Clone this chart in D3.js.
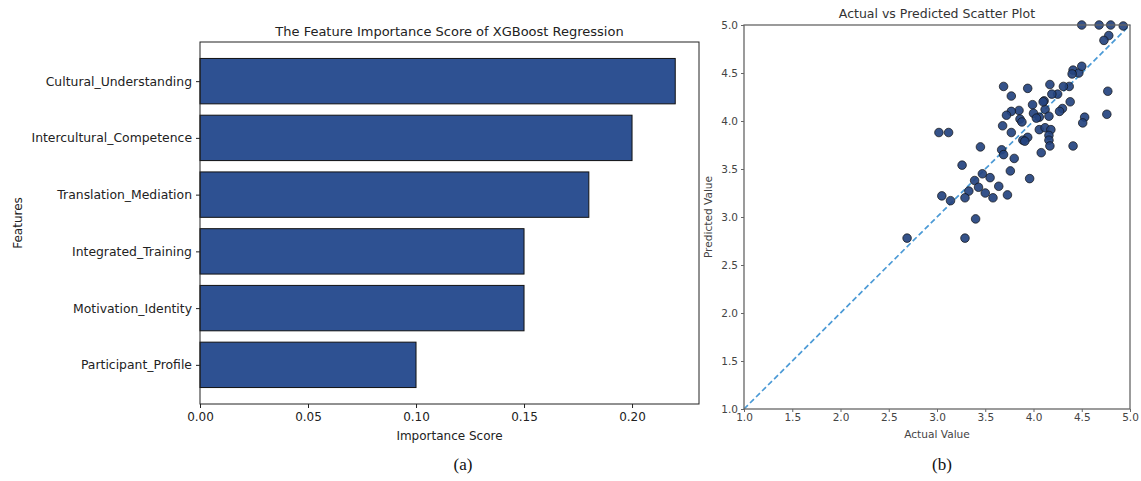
<!DOCTYPE html>
<html>
<head>
<meta charset="utf-8">
<script src="https://cdn.jsdelivr.net/npm/d3@7"></script>
<style>
  html, body { margin: 0; padding: 0; background: #fff; }
  svg { display: block; }
</style>
</head>
<body>
<svg id="fig" width="1141" height="481" font-family="DejaVu Sans, sans-serif"></svg>
<script>
// Feature importance (top to bottom as listed)
const features = [
  "Cultural_Understanding",
  "Intercultural_Competence",
  "Translation_Mediation",
  "Integrated_Training",
  "Motivation_Identity",
  "Participant_Profile"
];
const importance = [0.22, 0.20, 0.18, 0.15, 0.15, 0.10];
const importanceTicks = [0.00, 0.05, 0.10, 0.15, 0.20];

// Actual vs predicted pairs
const actual = [
  4.50, 4.68, 4.80, 4.93, 4.78, 4.73, 4.41, 4.47, 4.50, 4.40,
  4.77, 4.76, 4.53, 4.51, 4.41, 4.38, 4.37, 4.31, 4.25, 4.17,
  4.19, 4.30, 4.27, 4.11, 4.12, 4.16, 4.06, 3.99, 4.00, 3.94,
  3.85, 3.86, 3.88, 3.77, 3.69, 3.77, 3.72, 3.68, 3.77, 4.06,
  4.12, 4.18, 4.16, 4.16, 4.17, 4.08, 3.94, 3.89, 3.91, 3.80,
  3.67, 3.69, 3.45, 3.02, 3.12, 3.26, 3.76, 3.96, 3.47, 3.55,
  3.39, 3.43, 3.33, 3.50, 3.64, 3.73, 3.58, 3.29, 3.05, 3.14,
  3.40, 2.69, 3.29, 4.03, 4.10
];
const predicted = [
  5.00, 5.00, 5.00, 4.99, 4.89, 4.84, 4.53, 4.50, 4.57, 4.49,
  4.31, 4.07, 4.04, 3.98, 3.74, 4.20, 4.36, 4.36, 4.28, 4.38,
  4.28, 4.13, 4.10, 4.21, 4.12, 4.05, 4.04, 4.17, 4.08, 4.34,
  4.11, 4.02, 3.99, 4.26, 4.36, 4.10, 4.06, 3.95, 3.88, 3.91,
  3.93, 3.91, 3.85, 3.80, 3.74, 3.67, 3.83, 3.80, 3.79, 3.61,
  3.70, 3.65, 3.73, 3.88, 3.88, 3.54, 3.48, 3.40, 3.45, 3.41,
  3.38, 3.31, 3.27, 3.25, 3.32, 3.23, 3.20, 3.20, 3.22, 3.17,
  2.98, 2.78, 2.78, 4.03, 4.20
];
const valueTicks = [1.0, 1.5, 2.0, 2.5, 3.0, 3.5, 4.0, 4.5, 5.0];

const svg = d3.select("#fig");
svg.append("rect").attr("width", 1141).attr("height", 481).attr("fill", "#fff");

// ---------- (a) horizontal bar chart ----------
const A = { left: 200, right: 699, top: 42, bottom: 404 };
const ga = svg.append("g");

const xA = d3.scaleLinear().domain([0, 0.231]).range([A.left, A.right]);
// bar positions in index units, bottom bar at 0 (matplotlib-style margins)
const n = features.length;
const yA = d3.scaleLinear().domain([-0.69, n - 1 + 0.69]).range([A.bottom, A.top]);
const barH = yA(0) - yA(0.8);

ga.selectAll("rect.bar")
  .data(features.map((f, i) => ({ f, v: importance[i], pos: n - 1 - i })))
  .join("rect")
  .attr("class", "bar")
  .attr("x", xA(0))
  .attr("y", d => yA(d.pos + 0.4))
  .attr("width", d => xA(d.v) - xA(0))
  .attr("height", barH)
  .attr("fill", "#2e5192")
  .attr("stroke", "#111")
  .attr("stroke-width", 1);

// frame
ga.append("rect")
  .attr("x", A.left).attr("y", A.top)
  .attr("width", A.right - A.left).attr("height", A.bottom - A.top)
  .attr("fill", "none").attr("stroke", "#222").attr("stroke-width", 1);

const xAxisA = ga.append("g")
  .attr("transform", `translate(0,${A.bottom})`)
  .call(d3.axisBottom(xA).tickValues(importanceTicks).tickFormat(d3.format(".2f")).tickSize(4).tickPadding(4));
xAxisA.select(".domain").remove();
xAxisA.selectAll("line").attr("stroke", "#222");
xAxisA.selectAll("text").attr("font-size", 12).attr("fill", "#222").attr("font-family", "DejaVu Sans");

const yAxisA = ga.append("g")
  .attr("transform", `translate(${A.left},0)`)
  .call(d3.axisLeft(yA).tickValues(d3.range(n)).tickFormat(p => features[n - 1 - p]).tickSize(4).tickPadding(4));
yAxisA.select(".domain").remove();
yAxisA.selectAll("line").attr("stroke", "#222");
yAxisA.selectAll("text").attr("font-size", 12.4).attr("fill", "#222").attr("font-family", "DejaVu Sans");

ga.append("text")
  .attr("x", (A.left + A.right) / 2).attr("y", 36)
  .attr("text-anchor", "middle").attr("font-size", 13).attr("fill", "#222")
  .text("The Feature Importance Score of XGBoost Regression");
ga.append("text")
  .attr("x", (A.left + A.right) / 2).attr("y", 440)
  .attr("text-anchor", "middle").attr("font-size", 12).attr("fill", "#222")
  .text("Importance Score");
ga.append("text")
  .attr("transform", `translate(22,${(A.top + A.bottom) / 2}) rotate(-90)`)
  .attr("text-anchor", "middle").attr("font-size", 12).attr("fill", "#222")
  .text("Features");

// ---------- (b) scatter plot ----------
const B = { left: 744, right: 1130, top: 25, bottom: 409 };
const gb = svg.append("g");

const xB = d3.scaleLinear().domain([1, 5]).range([B.left, B.right]);
const yB = d3.scaleLinear().domain([1, 5]).range([B.bottom, B.top]);

gb.append("defs").append("clipPath").attr("id", "clipB")
  .append("rect").attr("x", B.left - 6).attr("y", B.top - 6)
  .attr("width", B.right - B.left + 12).attr("height", B.bottom - B.top + 12);

// reference diagonal y = x
gb.append("line")
  .attr("x1", xB(1)).attr("y1", yB(1))
  .attr("x2", xB(5)).attr("y2", yB(5))
  .attr("stroke", "#4b9ad6").attr("stroke-width", 1.7)
  .attr("stroke-dasharray", "5.5,3");

gb.append("g").attr("clip-path", "url(#clipB)")
  .selectAll("circle")
  .data(actual.map((a, i) => [a, predicted[i]]))
  .join("circle")
  .attr("cx", d => xB(d[0]))
  .attr("cy", d => yB(d[1]))
  .attr("r", 4.3)
  .attr("fill", "#24437f")
  .attr("fill-opacity", 0.92)
  .attr("stroke", "#111")
  .attr("stroke-width", 0.7);

gb.append("rect")
  .attr("x", B.left).attr("y", B.top)
  .attr("width", B.right - B.left).attr("height", B.bottom - B.top)
  .attr("fill", "none").attr("stroke", "#666").attr("stroke-width", 1.3);

const xAxisB = gb.append("g")
  .attr("transform", `translate(0,${B.bottom})`)
  .call(d3.axisBottom(xB).tickValues(valueTicks).tickFormat(d3.format(".1f")).tickSize(3).tickPadding(2));
xAxisB.select(".domain").remove();
xAxisB.selectAll("line").attr("stroke", "#666");
xAxisB.selectAll("text").attr("font-size", 10.5).attr("fill", "#444").attr("font-family", "DejaVu Sans");

const yAxisB = gb.append("g")
  .attr("transform", `translate(${B.left},0)`)
  .call(d3.axisLeft(yB).tickValues(valueTicks).tickFormat(d3.format(".1f")).tickSize(3).tickPadding(3));
yAxisB.select(".domain").remove();
yAxisB.selectAll("line").attr("stroke", "#666");
yAxisB.selectAll("text").attr("font-size", 10.5).attr("fill", "#444").attr("font-family", "DejaVu Sans");

gb.append("text")
  .attr("x", (B.left + B.right) / 2).attr("y", 18)
  .attr("text-anchor", "middle").attr("font-size", 12.5).attr("fill", "#333")
  .text("Actual vs Predicted Scatter Plot");
gb.append("text")
  .attr("x", (B.left + B.right) / 2).attr("y", 438)
  .attr("text-anchor", "middle").attr("font-size", 10.6).attr("fill", "#444")
  .text("Actual Value");
gb.append("text")
  .attr("transform", `translate(712,${(B.top + B.bottom) / 2}) rotate(-90)`)
  .attr("text-anchor", "middle").attr("font-size", 10.6).attr("fill", "#444")
  .text("Predicted Value");

// panel captions
svg.append("text")
  .attr("x", 463).attr("y", 470)
  .attr("text-anchor", "middle").attr("font-size", 17)
  .attr("font-family", "Liberation Serif, serif").attr("fill", "#111")
  .text("(a)");
svg.append("text")
  .attr("x", 942).attr("y", 470)
  .attr("text-anchor", "middle").attr("font-size", 17)
  .attr("font-family", "Liberation Serif, serif").attr("fill", "#111")
  .text("(b)");
</script>
</body>
</html>
